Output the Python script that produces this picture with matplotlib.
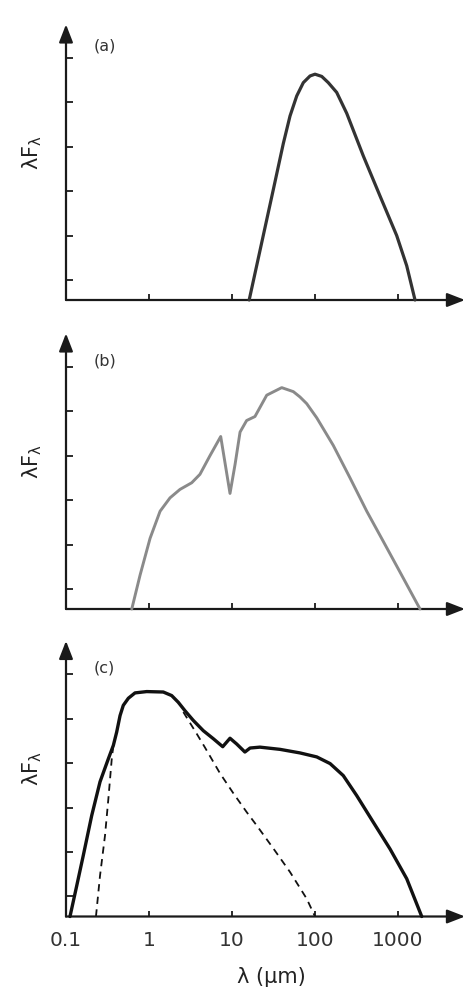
import matplotlib.pyplot as plt
import matplotlib.ticker as ticker
import numpy as np

plt.rcParams['font.family'] = ['DejaVu Sans']
plt.rcParams['mathtext.default'] = 'regular'

# ---- Data (wavelength in um, flux in tick units) ----
# (a) single cold blackbody-like bump
lam_a = [16.1, 23.8, 31.5, 41.5, 50.0, 60.2, 72.3, 87.1, 100, 120.5, 144.5, 182.5,
         241, 382, 607, 964, 1273, 1603]
flux_a = [0.0, 1.45, 2.49, 3.52, 4.14, 4.59, 4.89, 5.04, 5.08, 5.03, 4.89, 4.67,
          4.20, 3.24, 2.34, 1.45, 0.77, 0.0]

# (b) grey curve with silicate dip near 10 um
lam_b = [0.62, 0.78, 1.03, 1.36, 1.79, 2.36, 3.27, 4.11, 5.43, 7.31, 9.46, 10.9, 12.5,
         15.0, 18.9, 26.2, 39.7, 54.8, 65.9, 79.4, 105, 166, 264, 420, 665, 1057, 1841]
flux_b = [0.0, 0.76, 1.59, 2.20, 2.50, 2.69, 2.84, 3.03, 3.45, 3.88, 2.60, 3.26, 3.98,
          4.24, 4.33, 4.81, 4.98, 4.89, 4.77, 4.62, 4.30, 3.68, 2.95, 2.20, 1.52, 0.83, 0.0]

# (c) total SED plus the two dashed components
lam_c = [0.1117, 0.1346, 0.1614, 0.204, 0.257, 0.324, 0.372, 0.408, 0.448, 0.490, 0.564,
         0.678, 0.938, 1.486, 1.876, 2.25, 2.71, 3.42, 4.51, 5.95, 7.73, 9.46, 11.4, 14.3,
         16.5, 21.7, 37.9, 65.9, 105, 152, 219, 318, 504, 801, 1273, 1931]
flux_c = [0.0, 0.69, 1.37, 2.27, 3.03, 3.55, 3.85, 4.15, 4.52, 4.75, 4.91,
          5.03, 5.06, 5.05, 4.97, 4.82, 4.63, 4.41, 4.18, 4.00, 3.82, 4.01, 3.88, 3.70,
          3.79, 3.81, 3.76, 3.68, 3.59, 3.44, 3.17, 2.72, 2.12, 1.52, 0.85, 0.0]

lam_c_star = [0.2296, 0.257, 0.295, 0.324, 0.356, 0.372]
flux_c_star = [0.0, 0.92, 1.82, 2.65, 3.55, 3.85]

lam_c_disk = [2.59, 3.76, 4.73, 7.17, 10.4, 15.0, 19.8, 31.5, 50.0, 79.4, 100]
flux_c_disk = [4.60, 4.11, 3.80, 3.22, 2.77, 2.35, 2.05, 1.53, 1.00, 0.40, 0.0]

tick_vals = [0.1, 1, 10, 100, 1000]
tick_text = ['0.1', '1', '10', '100', '1000']
panel_names = ['(a)', '(b)', '(c)']

# ---- Figure ----
W, H = 473, 1004
fig = plt.figure(figsize=(W / 100, H / 100), dpi=100)

left = 66 / W
width = 399 / W
bottoms = [(H - 301) / H, (H - 610) / H, (H - 917.5) / H]
height = 0.2745
name_y = [0.924, 0.905, 0.905]
axis_col = '#1a1a1a'

axes = []
for i in range(3):
    ax = fig.add_axes([left, bottoms[i], width, height])
    ax.set_xscale('log')
    ax.set_xlim(0.1, 10 ** 3.807)
    ax.set_ylim(0, 6.2)
    for s in ax.spines.values():
        s.set_visible(False)
    # arrowed axes
    arrow = dict(arrowstyle='-|>,head_length=0.9,head_width=0.35', lw=1.6,
                 color=axis_col, shrinkA=0, shrinkB=0, mutation_scale=12)
    ax.annotate('', xy=(1.0, 0), xytext=(0, 0), xycoords='axes fraction',
                arrowprops=arrow, annotation_clip=False)
    ax.annotate('', xy=(0, 1.0), xytext=(0, 0), xycoords='axes fraction',
                arrowprops=arrow, annotation_clip=False)

    ax.set_xticks(tick_vals)
    ax.xaxis.set_minor_locator(ticker.NullLocator())
    ax.set_yticks(np.arange(6) + 0.45)
    ax.tick_params(axis='x', direction='in', length=4, width=1.3, color=axis_col,
                   pad=10, labelsize=14.5, labelcolor='#333333')
    ax.tick_params(axis='y', direction='in', length=5, width=1.3, color=axis_col,
                   labelleft=False)
    if i < 2:
        ax.tick_params(axis='x', labelbottom=False)
    else:
        ax.set_xticklabels(tick_text)

    ax.set_ylabel('λF$_λ$', fontsize=15, color='#222222')
    ax.yaxis.set_label_coords(-0.055, 0.54)
    ax.text(0.068, name_y[i], panel_names[i], transform=ax.transAxes,
            fontsize=11.5, color='#333333', ha='left', va='center')
    axes.append(ax)

axes[0].plot(lam_a, flux_a, color='#333333', lw=2.3, solid_joinstyle='round',
             solid_capstyle='round', clip_on=False, zorder=3)
axes[1].plot(lam_b, flux_b, color='#8a8a8a', lw=2.1, solid_joinstyle='round',
             solid_capstyle='round', clip_on=False, zorder=3)
axes[2].plot(lam_c_star, flux_c_star, color='#111111', lw=1.3, ls=(0, (4, 3)), clip_on=False)
axes[2].plot(lam_c_disk, flux_c_disk, color='#111111', lw=1.3, ls=(0, (4, 3)), clip_on=False)
axes[2].plot(lam_c, flux_c, color='#111111', lw=2.4, solid_joinstyle='round',
             solid_capstyle='round', clip_on=False, zorder=3)

axes[2].set_xlabel('λ (µm)', fontsize=15, color='#222222')
axes[2].xaxis.set_label_coords(0.514, -0.18)
axes[2].xaxis.label.set_va('top')

fig.savefig('out.png', dpi=100)
